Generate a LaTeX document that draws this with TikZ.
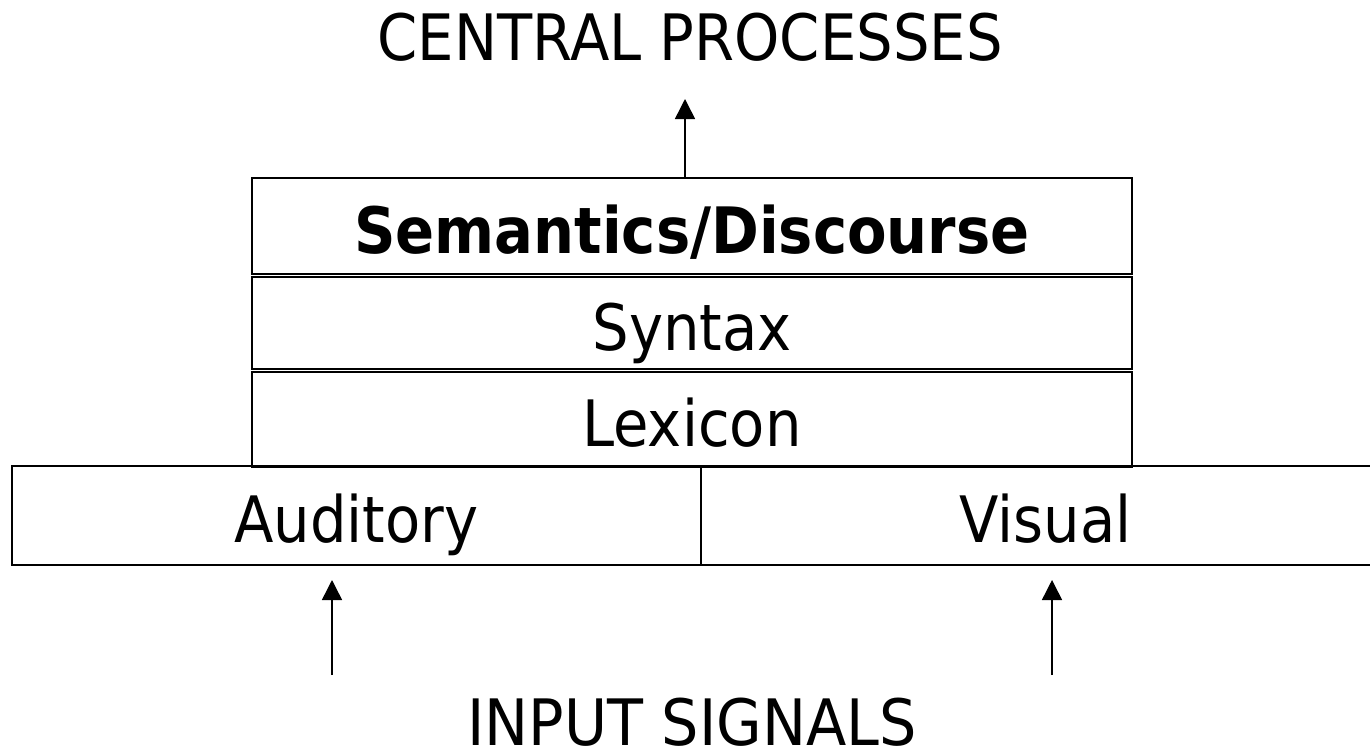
\documentclass[tikz,border=0pt]{standalone}
\usepackage{fontspec}
\setmainfont[FakeStretch=0.9]{DejaVu Sans}
\usetikzlibrary{arrows.meta}
\begin{document}
\begin{tikzpicture}[x=1pt,y=-1pt,
  bigfont/.style={font=\fontsize{64}{72}\selectfont},
  box/.style={draw,line width=2pt,inner sep=0pt,minimum width=880pt,
    text height=60pt,text depth=6pt,bigfont},
  lbl/.style={anchor=base,inner sep=0pt,bigfont},
  arr/.style={line width=1.5pt,-{Triangle[length=20pt,width=20pt]}}]
\useasboundingbox[fill=white] (0,0) rectangle (1370,753);
\clip (0,0) rectangle (1370,753);
% titles
\node[lbl] (cp) at (690,60) {CENTRAL PROCESSES};
\node[lbl] (in) at (692,745) {\addfontfeature{FakeStretch=0.92}INPUT SIGNALS};
% input layer
\node[box,minimum width=689pt,minimum height=99pt] (aud) at (356.5,515.5) {Auditory};
\node[box,minimum width=689pt,minimum height=99pt] (vis) at (1045.5,515.5) {Visual};
% stack
\node[box,minimum height=96pt] (sem) at (692,226) {\bfseries Semantics/Discourse};
\node[box,minimum height=92pt] (syn) at (692,323) {Syntax};
\node[box,minimum height=95pt] (lex) at (692,419.5) {Lexicon};
% arrows
\coordinate (cpTip) at (685,99);
\draw[arr] (sem.north -| cpTip) -- (cpTip);
\coordinate (audSrc) at (332,675);
\coordinate (audTip) at (332,580);
\coordinate (visSrc) at (1052,675);
\coordinate (visTip) at (1052,580);
\draw[arr] (audSrc) -- (audTip);
\draw[arr] (visSrc) -- (visTip);
\end{tikzpicture}
\end{document}
